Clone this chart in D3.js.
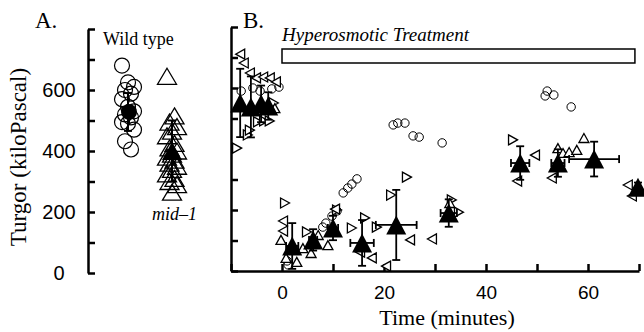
<!DOCTYPE html>
<html>
<head>
<meta charset="utf-8">
<script src="https://cdn.jsdelivr.net/npm/d3@7"></script>
<style>
  body { margin: 0; background: #fff; }
  svg { display: block; }
  .tick line, .domain { stroke: #000; }
</style>
</head>
<body>
<svg id="chart"></svg>
<script>
// panel A: turgor of single cells
const wtVals = [680, 625, 610, 600, 588, 570, 545, 530, 520, 510, 495, 490, 470, 432, 405];
const midVals = [645, 515, 495, 480, 465, 450, 425, 410, 400, 390, 380, 370, 360, 350, 340, 325, 310, 300, 290, 265];
const wtMean = [528, 62];
const midMean = [400, 100];

// panel B: time course [minutes, kPa]
const bCircles = [[-8.0, 590], [-5.7, 600], [-4.3, 590], [-2.0, 597], [-0.6, 603],
  [1.0, 33], [1.2, 20], [8.0, 144], [8.6, 157], [9.8, 180], [10.8, 197],
  [12.0, 256], [12.9, 272], [13.7, 285], [14.7, 302],
  [21.8, 479], [22.7, 485], [24.1, 485], [25.7, 443], [26.9, 439], [31.4, 420],
  [51.6, 574], [52.0, 590], [53.3, 577], [56.7, 538]];
const bRight = [[-8.8, 403], [-6.7, 446], [-6.3, 462], [-4.7, 489], [-3.5, 492], [-2.4, 492],
  [-1.6, 551], [0.6, 223], [4.9, 128], [10.8, 200], [13.7, 141], [16.3, 174],
  [18.6, 144], [21.4, 249], [24.5, 308], [33.3, 233], [34.7, 193], [45.3, 430]];
const bLeft = [[-8.2, 711], [-7.5, 682], [-6.3, 649], [-5.1, 633], [-3.7, 636], [-2.4, 633],
  [-1.2, 620], [0.2, 164], [0.2, 131], [10.4, 203], [15.3, 62], [17.6, 43], [20.4, 16],
  [25.1, 102], [29.4, 105], [49.6, 380], [46.1, 295], [52.9, 305], [67.8, 282], [68.6, 246]];
const bUp = [[-1.4, 534], [-0.2, 102], [0.8, 43], [2.9, 30], [4.1, 75], [5.7, 59],
  [7.1, 118], [9.0, 85], [32.9, 223], [54.1, 403], [55.1, 387], [56.3, 390],
  [57.8, 397], [59.2, 436]];
// means: [minutes, kPa, sd kPa, sd minutes]
const bMeans = [[-8.2, 551, 112, 0], [-6.1, 538, 100, 0], [-4.1, 548, 60, 0], [-2.7, 541, 45, 0],
  [2.0, 82, 75, 1.2], [6.1, 102, 35, 0.8], [10.0, 141, 40, 1.0], [15.7, 92, 75, 2.3],
  [22.4, 151, 115, 4.0], [32.7, 190, 45, 1.6], [46.7, 354, 55, 1.8], [54.1, 354, 45, 1.3],
  [61.2, 367, 57, 4.9], [69.8, 275, 15, 0]];
const treatment = [0, 69.2];
const yTicks = [0, 100, 200, 300, 400, 500, 600, 700, 800];
const yLabels = [0, 200, 400, 600];
const xTicks = [-10, 0, 10, 20, 30, 40, 50, 60, 70];
const xLabels = [0, 20, 40, 60];

const svg = d3.select("#chart").attr("width", 644).attr("height", 332);

const yA = d3.scaleLinear().domain([0, 800]).range([273, 29]);
const yB = d3.scaleLinear().domain([0, 800]).range([271, 27]);
const x = d3.scaleLinear().domain([-10, 70]).range([231, 639]);

const serif = "'Liberation Serif', 'Times New Roman', serif";
const sans = "'Liberation Sans', Arial, sans-serif";

function tri(dir, w, h) {
  const a = w / 2, b = h / 2;
  if (dir == "up") return `M0,${-b}L${a},${b}L${-a},${b}Z`;
  if (dir == "right") return `M${b},0L${-b},${a}L${-b},${-a}Z`;
  return `M${-b},0L${b},${a}L${b},${-a}Z`;
}

// ---- panel A axis
const axA = svg.append("g").attr("transform", "translate(88,0)")
  .call(d3.axisLeft(yA).tickValues(yTicks).tickSizeInner(-7).tickSizeOuter(0)
    .tickFormat(d => yLabels.includes(d) ? d : ""));
axA.selectAll("line, path").attr("stroke-width", 2.5);
axA.selectAll("text").attr("x", -29).attr("text-anchor", "middle")
  .style("font-family", sans).style("font-size", "20px");

// ---- panel A points
const gA = svg.append("g").attr("fill", "none").attr("stroke", "#000").attr("stroke-width", 1.2);
gA.selectAll("circle.wt").data(wtVals).enter().append("circle")
  .attr("cx", (d, i) => 128 + ((i * 7) % 5 - 2) * 3)
  .attr("cy", d => yA(d)).attr("r", 7.5);
gA.selectAll("path.mid").data(midVals).enter().append("path")
  .attr("transform", (d, i) => `translate(${172 + ((i * 3) % 5 - 2) * 2.5},${yA(d)})`)
  .attr("d", tri("up", 19, 16)).attr("stroke-width", 1.3);

function vbar(g, cx, lo, hi) {
  g.append("line").attr("x1", cx).attr("x2", cx).attr("y1", lo).attr("y2", hi);
  g.append("line").attr("x1", cx - 4).attr("x2", cx + 4).attr("y1", lo).attr("y2", lo);
  g.append("line").attr("x1", cx - 4).attr("x2", cx + 4).attr("y1", hi).attr("y2", hi);
}
const eA = svg.append("g").attr("stroke", "#000").attr("stroke-width", 2);
vbar(eA, 128, yA(wtMean[0] - wtMean[1]), yA(wtMean[0] + wtMean[1]));
vbar(eA, 172, yA(midMean[0] - midMean[1]), yA(midMean[0] + midMean[1]));
svg.append("circle").attr("cx", 129).attr("cy", yA(wtMean[0])).attr("r", 8).attr("fill", "#000");
svg.append("path").attr("transform", `translate(172,${yA(midMean[0])})`)
  .attr("d", tri("up", 20, 18)).attr("fill", "#000");

// ---- panel B axes
const axBy = svg.append("g").attr("transform", "translate(231,0)")
  .call(d3.axisLeft(yB).tickValues(yTicks).tickSizeInner(-7).tickSizeOuter(0).tickFormat(""));
axBy.selectAll("line, path").attr("stroke-width", 2.5);
const axBx = svg.append("g").attr("transform", "translate(0,271)")
  .call(d3.axisBottom(x).tickValues(xTicks).tickSizeInner(-7).tickSizeOuter(0)
    .tickFormat(d => xLabels.includes(d) ? d : ""));
axBx.selectAll("line, path").attr("stroke-width", 2.5);
axBx.selectAll("text").attr("y", 15).style("font-family", sans).style("font-size", "19px");

// treatment bar
svg.append("rect").attr("x", x(treatment[0])).attr("y", 49)
  .attr("width", x(treatment[1]) - x(treatment[0])).attr("height", 14)
  .attr("fill", "none").attr("stroke", "#000").attr("stroke-width", 1.5);

// ---- panel B points
const gB = svg.append("g").attr("fill", "none").attr("stroke", "#000").attr("stroke-width", 1.3);
gB.selectAll("circle").data(bCircles).enter().append("circle")
  .attr("cx", d => x(d[0])).attr("cy", d => yB(d[1])).attr("r", 4.2).attr("stroke-width", 1);
function openTri(data, dir) {
  gB.append("g").selectAll("path").data(data).enter().append("path")
    .attr("transform", d => `translate(${x(d[0])},${yB(d[1])})`)
    .attr("d", tri(dir, 10, 9)).attr("fill", "#fff");
}
openTri(bRight, "right");
openTri(bLeft, "left");
openTri(bUp, "up");

const eB = svg.append("g").attr("stroke", "#000").attr("stroke-width", 1.8);
bMeans.forEach(d => {
  const cx = x(d[0]), cy = yB(d[1]);
  if (d[2] > 0) vbar(eB, cx, yB(d[1] - d[2]), yB(d[1] + d[2]));
  if (d[3] > 0) {
    const l = x(d[0] - d[3]), r = x(d[0] + d[3]);
    eB.append("line").attr("x1", l).attr("x2", r).attr("y1", cy).attr("y2", cy);
    eB.append("line").attr("x1", l).attr("x2", l).attr("y1", cy - 4).attr("y2", cy + 4);
    eB.append("line").attr("x1", r).attr("x2", r).attr("y1", cy - 4).attr("y2", cy + 4);
  }
});
svg.append("g").selectAll("path").data(bMeans).enter().append("path")
  .attr("transform", d => `translate(${x(d[0])},${yB(d[1])})`)
  .attr("d", tri("up", 20, 19)).attr("fill", "#000");

// ---- text
function label(txt, px, py, size, opts = {}) {
  return svg.append("text").attr("x", px).attr("y", py).text(txt)
    .style("font-family", serif).style("font-size", size + "px")
    .style("font-style", opts.italic ? "italic" : "normal")
    .attr("text-anchor", opts.anchor || "start");
}
label("A.", 35, 28, 23);
label("B.", 243, 28, 23);
label("Wild type", 103, 45, 18);
label("mid–1", 152, 220, 18, { italic: true });
label("Hyperosmotic Treatment", 282, 41, 19, { italic: true });
label("Time (minutes)", 447, 325, 22, { anchor: "middle" });
svg.append("text").attr("transform", "translate(26,157) rotate(-90)")
  .attr("text-anchor", "middle").text("Turgor (kiloPascal)")
  .style("font-family", serif).style("font-size", "23px");
</script>
</body>
</html>
